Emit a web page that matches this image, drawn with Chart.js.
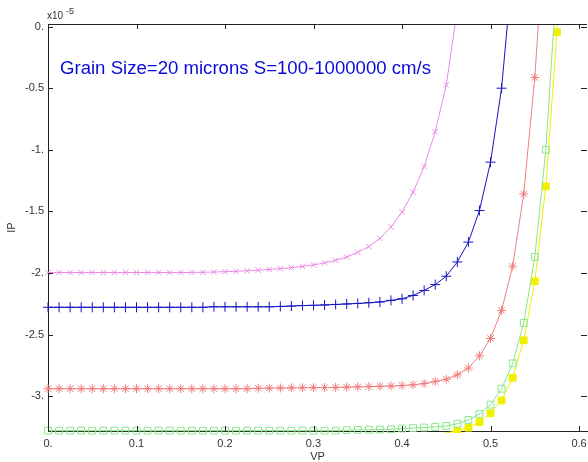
<!DOCTYPE html>
<html><head><meta charset="utf-8">
<script src="https://cdn.jsdelivr.net/npm/chart.js@4/dist/chart.umd.min.js"></script>
<style>html,body{margin:0;padding:0;background:#fff;overflow:hidden}</style>
</head><body>
<canvas id="c" width="588" height="462"></canvas>
<script>
// Voltage samples (VP)
const vp = [0,0.0125,0.025,0.0375,0.05,0.0625,0.075,0.0875,0.1,0.1125,0.125,0.1375,0.15,0.1625,0.175,0.1875,
  0.2,0.2125,0.225,0.2375,0.25,0.2625,0.275,0.2875,0.3,0.3125,0.325,0.3375,0.35,0.3625,0.375,0.3875,
  0.4,0.4125,0.425,0.4375,0.45,0.4625,0.475,0.4875,0.5,0.5125,0.525,0.5375,0.55,0.5625,0.575,0.5875];

// Currents (IP, x1e-5)
const ipViolet = [-1.996,-1.996,-1.996,-1.996,-1.996,-1.996,-1.996,-1.996,-1.996,-1.996,-1.996,-1.996,-1.996,
  -1.995,-1.994,-1.992,-1.989,-1.986,-1.982,-1.977,-1.971,-1.964,-1.956,-1.946,-1.934,-1.918,-1.897,-1.871,
  -1.833,-1.785,-1.719,-1.627,-1.505,-1.344,-1.135,-0.854,-0.473,0.14];
const ipBlue = [-2.278,-2.278,-2.278,-2.278,-2.278,-2.278,-2.278,-2.278,-2.278,-2.278,-2.278,-2.278,-2.278,-2.278,-2.278,
  -2.274,-2.274,-2.274,-2.274,-2.274,-2.274,
  -2.271,-2.268,-2.264,-2.262,-2.259,-2.255,-2.251,-2.247,-2.241,-2.235,-2.222,-2.209,-2.182,-2.141,-2.094,
  -2.026,-1.910,-1.749,-1.493,-1.100,-0.500,0.49];
const ipRed = [-2.939,-2.939,-2.939,-2.939,-2.939,-2.939,-2.939,-2.939,-2.939,-2.939,-2.939,-2.939,-2.939,-2.939,
  -2.939,-2.939,-2.939,-2.939,-2.939,
  -2.935,-2.934,-2.933,-2.932,-2.931,-2.930,-2.929,-2.928,-2.926,-2.924,-2.922,-2.919,-2.917,-2.913,-2.907,
  -2.897,-2.880,-2.862,-2.826,-2.771,-2.672,-2.531,-2.303,-1.945,-1.359,-0.414,0.93];
const ipGreen = [-3.279,-3.279,-3.279,-3.279,-3.279,-3.279,-3.279,-3.279,-3.279,-3.279,-3.279,-3.279,-3.279,-3.279,
  -3.279,-3.279,-3.279,-3.279,-3.279,-3.279,-3.279,-3.279,-3.279,-3.279,-3.279,-3.279,-3.279,
  -3.275,-3.273,-3.272,-3.270,-3.268,-3.262,-3.258,-3.254,-3.249,-3.241,-3.223,-3.192,-3.144,-3.068,-2.939,
  -2.733,-2.405,-1.869,-1.000,0.40];
const ipYellow = [-3.335,-3.335,-3.335,-3.335,-3.335,-3.335,-3.335,-3.335,-3.335,-3.335,-3.335,-3.335,-3.335,
  -3.335,-3.335,-3.335,-3.335,-3.335,-3.335,-3.335,-3.335,-3.335,-3.335,-3.335,-3.335,-3.335,-3.335,-3.335,
  -3.335,-3.335,-3.335,-3.335,-3.335,
  -3.330,-3.322,-3.311,-3.297,-3.280,-3.255,-3.210,-3.138,-3.034,-2.850,-2.546,-2.067,-1.297,-0.046,1.6];

const xTicks = [0,0.1,0.2,0.3,0.4,0.5,0.6];
const xTickLabels = ['0.','0.1','0.2','0.3','0.4','0.5','0.6'];
const yTicks = [0,-0.5,-1,-1.5,-2,-2.5,-3];
const yTickLabels = ['0.','-0.5','-1.','-1.5','-2.','-2.5','-3.'];
const annotation = 'Grain Size=20 microns S=100-1000000 cm/s';

const X_MIN = 0, X_MAX = 0.609, Y_MIN = -3.282, Y_MAX = 0.021;
const FONT = '"Liberation Sans", Arial, sans-serif';
const AREA = {left: 48, right: 587, top: 24, bottom: 431};

function pts(arr){ return arr.map((v,i)=>({x:vp[i], y:v})); }
function rad(r){ return ctx => { const v = ctx.raw && ctx.raw.y; return (v < Y_MIN || v > Y_MAX) ? 0 : r; }; }

function ds(data, color, style, r, fill, clipBottom){
  return {
    data: pts(data), borderColor: color, borderWidth: 1,
    pointStyle: style, pointRadius: rad(r), pointBorderColor: color, pointBorderWidth: 1,
    pointBackgroundColor: fill, showLine: true, tension: 0,
    clip: {left: 6, top: 0, right: 0, bottom: clipBottom}
  };
}

// pin the plot box to the reference frame
const pinArea = {
  id: 'pinArea',
  afterLayout(chart){
    const a = chart.chartArea, x = chart.scales.x, y = chart.scales.y;
    a.left = AREA.left; a.right = AREA.right; a.top = AREA.top; a.bottom = AREA.bottom;
    a.width = a.right - a.left; a.height = a.bottom - a.top;
    x.left = a.left; x.right = a.right; x.width = a.width;
    x.top = a.bottom; x.bottom = chart.height; x.height = x.bottom - x.top;
    y.left = 0; y.right = a.left; y.width = a.left;
    y.top = a.top; y.bottom = a.bottom; y.height = a.height;
    x.configure(); y.configure();
  }
};

const frame = {
  id: 'frame',
  afterDraw(chart){
    const {ctx, chartArea: a, scales: {x, y}} = chart;
    ctx.save();
    ctx.strokeStyle = '#222'; ctx.lineWidth = 1;
    ctx.beginPath();
    ctx.moveTo(a.left, a.top + 0.5); ctx.lineTo(a.right, a.top + 0.5);
    x.ticks.forEach(t => {
      const px = Math.round(x.getPixelForValue(t.value)) + 0.5;
      ctx.moveTo(px, a.bottom); ctx.lineTo(px, a.bottom - 5);
      ctx.moveTo(px, a.top); ctx.lineTo(px, a.top + 5);
    });
    y.ticks.forEach(t => {
      const py = Math.round(y.getPixelForValue(t.value)) + 0.5;
      ctx.moveTo(a.left, py); ctx.lineTo(a.left + 5, py);
      ctx.moveTo(a.right, py); ctx.lineTo(a.right - 6, py);
    });
    ctx.stroke();
    // exponent
    ctx.fillStyle = '#333';
    ctx.font = '10px ' + FONT;
    ctx.textBaseline = 'alphabetic';
    ctx.fillText('x10', 47, 19);
    ctx.font = '9px ' + FONT;
    ctx.fillText('-5', 66, 14);
    // annotation, stretched to the reference width
    ctx.fillStyle = '#0a0ad8';
    ctx.font = '17.5px ' + FONT;
    const w = ctx.measureText(annotation).width;
    ctx.translate(60, 73.5);
    ctx.scale(371 / w, 1);
    ctx.fillText(annotation, 0, 0);
    ctx.restore();
  }
};

new Chart(document.getElementById('c'), {
  type: 'scatter',
  data: { datasets: [
    ds(ipViolet, '#e98be9', 'crossRot', 3.8, 'rgba(0,0,0,0)', 5),
    ds(ipBlue, '#1515c0', 'cross', 5, 'rgba(0,0,0,0)', 5),
    ds(ipRed, '#f07d7d', 'star', 4.5, 'rgba(0,0,0,0)', 5),
    ds(ipGreen, '#8be68b', 'rect', 4.8, 'rgba(0,0,0,0)', 5),
    ds(ipYellow, '#f0f000', 'rect', 4.8, '#f0f000', 2)
  ]},
  options: {
    responsive: false, animation: false, devicePixelRatio: 1,
    layout: { padding: { top: 24, right: 1, left: 0, bottom: 0 } },
    plugins: { legend: { display: false }, tooltip: { enabled: false } },
    scales: {
      x: {
        type: 'linear', min: X_MIN, max: X_MAX,
        afterBuildTicks: s => { s.ticks = xTicks.map(v => ({value: v})); },
        afterFit: s => { s.height = 31; },
        ticks: { callback: (v, i) => xTickLabels[i], color: '#333', padding: 0, maxRotation: 0,
                 font: { family: FONT, size: 11 } },
        grid: { display: true, drawOnChartArea: false, drawTicks: true, tickLength: 6,
                tickColor: 'rgba(0,0,0,0)' },
        border: { display: true, color: '#222', width: 1 },
        title: { display: true, text: 'VP', color: '#333', font: { family: FONT, size: 11, lineHeight: 1 },
                 padding: { top: 0, bottom: 0 } }
      },
      y: {
        type: 'linear', min: Y_MIN, max: Y_MAX,
        afterBuildTicks: s => { s.ticks = yTicks.map(v => ({value: v})); },
        afterFit: s => { s.width = 48; },
        ticks: { callback: (v, i) => yTickLabels[i], color: '#333', padding: 0,
                 font: { family: FONT, size: 11 } },
        grid: { display: true, drawOnChartArea: false, drawTicks: true, tickLength: 4,
                tickColor: 'rgba(0,0,0,0)' },
        border: { display: true, color: '#222', width: 1 },
        title: { display: true, text: 'IP', color: '#333', font: { family: FONT, size: 11, lineHeight: 1 },
                 padding: { top: 6, bottom: 0 } }
      }
    }
  },
  plugins: [pinArea, frame]
});
</script>
</body></html>
